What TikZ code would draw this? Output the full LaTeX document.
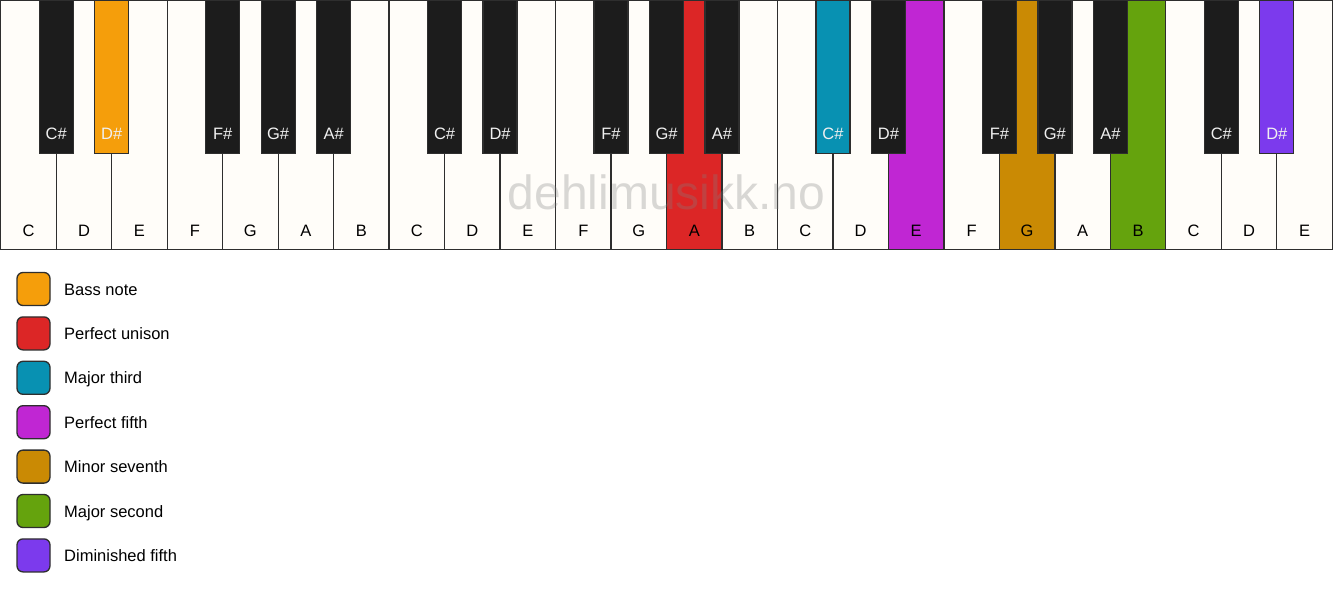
\documentclass[tikz,border=0pt]{standalone}
\usepackage{fontspec}
\setmainfont{Liberation Sans}
\definecolor{ivory}{HTML}{FFFDF9}
\definecolor{keyblack}{HTML}{1C1C1C}
\definecolor{keyborder}{HTML}{2E2E2E}
\definecolor{cbass}{HTML}{F59E0B}
\definecolor{cunison}{HTML}{DC2626}
\definecolor{cthird}{HTML}{0891B2}
\definecolor{cfifth}{HTML}{C026D3}
\definecolor{cseventh}{HTML}{CA8A04}
\definecolor{csecond}{HTML}{65A30D}
\definecolor{cdim}{HTML}{7C3AED}
\begin{document}
\begin{tikzpicture}[x=1pt,y=-1pt,
  keyline/.style={draw=keyborder, line width=1.3pt},
  whitekey/.style={keyline, rectangle, minimum width=55.48pt, minimum height=248.5pt, anchor=north west, inner sep=0pt, outer sep=0pt},
  blackkey/.style={keyline, rectangle, minimum width=34pt, minimum height=152.5pt, anchor=north, inner sep=0pt, outer sep=0pt},
  keyfont/.style={font=\fontsize{16.5}{19}\selectfont},
  wlabel/.style={keyfont, text=black, anchor=base, inner sep=0pt},
  blabel/.style={keyfont, text=white!94!black, anchor=base, inner sep=0pt},
  legbox/.style={draw=keyborder, line width=1.3pt, rounded corners=6pt, minimum size=33pt, inner sep=0pt},
  legtext/.style={keyfont, anchor=base west, text=black, inner sep=0pt},
  watermark/.style={font=\fontsize{48}{56}\selectfont, text=gray, opacity=0.3}]
\useasboundingbox (0,0) rectangle (1333,594);
\fill[white] (0,0) rectangle (1333,594);
% white keys
\foreach \n/\c [count=\i from 0] in {C/ivory,D/ivory,E/ivory,F/ivory,G/ivory,A/ivory,B/ivory,
  C/ivory,D/ivory,E/ivory,F/ivory,G/ivory,A/cunison,B/ivory,
  C/ivory,D/ivory,E/cfifth,F/ivory,G/cseventh,A/ivory,B/csecond,
  C/ivory,D/ivory,E/ivory}{
  \node[whitekey, fill=\c] (w\i) at (\i*55.48+0.75, 0.75) {};
  \node[wlabel] (wl\i) at (\i*55.48+0.75+27.74, 236) {\n};
}
% watermark
\node[watermark] (wm) at (666.5, 192) {dehlimusikk.no};
% black keys
\foreach \b/\n/\c in {1/C\#/keyblack,2/D\#/cbass,4/F\#/keyblack,5/G\#/keyblack,6/A\#/keyblack,
  8/C\#/keyblack,9/D\#/keyblack,11/F\#/keyblack,12/G\#/keyblack,13/A\#/keyblack,
  15/C\#/cthird,16/D\#/keyblack,18/F\#/keyblack,19/G\#/keyblack,20/A\#/keyblack,
  22/C\#/keyblack,23/D\#/cdim}{
  \node[blackkey, fill=\c] (b\b) at (\b*55.48+0.75, 0.75) {};
  \node[blabel] (bl\b) at (\b*55.48+0.75, 139) {\n};
}
% legend
\foreach \c/\t [count=\i from 0] in {cbass/Bass note,cunison/Perfect unison,cthird/Major third,
  cfifth/Perfect fifth,cseventh/Minor seventh,csecond/Major second,cdim/Diminished fifth}{
  \node[legbox, fill=\c] (lb\i) at (33.5, 289+\i*44.4) {};
  \node[legtext] (lt\i) at (64, 295+\i*44.4) {\t};
}
\end{tikzpicture}
\end{document}
